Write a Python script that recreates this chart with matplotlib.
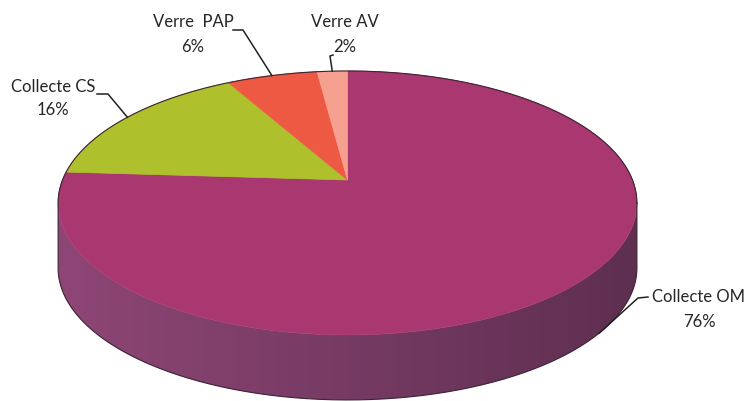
import numpy as np
import matplotlib
matplotlib.use("Agg")
import matplotlib.pyplot as plt
from matplotlib.patches import Polygon
from matplotlib.colors import LinearSegmentedColormap

# data
labels = ['Collecte OM', 'Collecte CS', 'Verre  PAP', 'Verre AV']
values = [76, 16, 6, 2]
top_colors = ['#a8386f', '#aec02b', '#ee5944', '#f6a090']
side_left = '#8e4676'
side_right = '#5e2f50'

# geometry of the 3d pie, in pixels
cx, cy = 347.5, 180.0
sx, sy = 285.0, 128.0
k = 0.174          # perspective
depth = 65.0


def proj(theta_deg, dz=0.0):
    t = np.radians(theta_deg)
    x, y = np.cos(t), np.sin(t)
    w = 1 + k * y
    return cx + sx * x / w, cy - sy * y / w + dz


fig = plt.figure(figsize=(7.47, 4.01), dpi=100)
ax = fig.add_axes([0, 0, 1, 1])
ax.set_xlim(0, 747)
ax.set_ylim(401, 0)
ax.axis('off')

# visible side, from left extreme through the front to right extreme
ext = np.degrees(np.arcsin(k))
front = np.linspace(180 + ext, 360 - ext, 300)
side_pts = [proj(a) for a in front] + [proj(a, depth) for a in front[::-1]]
side = Polygon(side_pts, closed=True, facecolor='none', edgecolor='none')
ax.add_patch(side)
cmap = LinearSegmentedColormap.from_list('side', [side_left, side_right])
grad = np.tile(np.linspace(0, 1, 256), (8, 1))
x0, x1 = proj(180 + ext)[0], proj(-ext)[0]
im = ax.imshow(grad, cmap=cmap, aspect='auto', extent=(x0, x1, 401, 150),
               interpolation='bilinear', zorder=1)
im.set_clip_path(side)
ax.set_xlim(0, 747)
ax.set_ylim(401, 0)

# top wedges, clockwise from 12 o'clock
total = sum(values)
start = 90.0
mids = []
for val, col in zip(values, top_colors):
    end = start - 360.0 * val / total
    arc = np.linspace(start, end, max(int(abs(end - start)), 2) + 1)
    pts = [(cx, cy)] + [proj(a) for a in arc]
    ax.add_patch(Polygon(pts, closed=True, facecolor=col, edgecolor=col,
                         lw=0.5, zorder=2))
    mids.append((start + end) / 2)
    start = end

# silhouette outline
back = np.linspace(-ext, 180 + ext, 200)
ox = [proj(a)[0] for a in back] + [proj(a, depth)[0] for a in front] + [proj(-ext)[0]]
oy = [proj(a)[1] for a in back] + [proj(a, depth)[1] for a in front] + [proj(-ext)[1]]
ax.plot(ox, oy, color='#3b2434', lw=0.8, zorder=3)

# labels with leader lines
font = dict(family='Lato', fontsize=12, color='#262626', ha='center', va='center')
lab_pos = [(699, 297), (53, 87), (193, 22), (345, 22)]
pct_pos = [(699, 322), (53, 110), (193, 47), (345, 47)]
elbow = [(648, 297), (97, 94), (233, 30), (333, 55)]
knee = [(638, 298), (108, 94), (243, 30), (330, 56)]
anchor = [proj(-38, depth), proj(mids[1]), proj(mids[2]), proj(mids[3])]

for i in range(len(values)):
    ax.text(*lab_pos[i], labels[i], zorder=4, **font)
    ax.text(*pct_pos[i], f'{values[i]}%', zorder=4, **font)
    xs = [elbow[i][0], knee[i][0], anchor[i][0]]
    ys = [elbow[i][1], knee[i][1], anchor[i][1]]
    ax.plot(xs, ys, color='#222222', lw=1.1, zorder=4)

fig.savefig('out.png', dpi=100)
